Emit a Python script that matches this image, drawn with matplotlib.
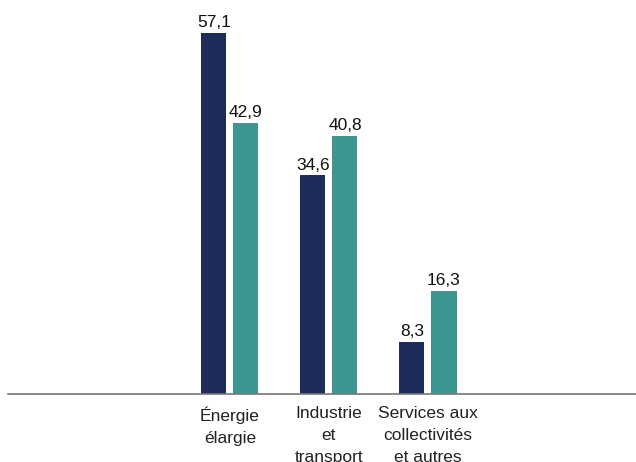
import matplotlib
matplotlib.use("Agg")
from matplotlib import pyplot as plt
import numpy as np

plt.rcParams["font.family"] = ["Liberation Sans", "DejaVu Sans"]

categories = ["Énergie\nélargie", "Industrie\net\ntransport", "Services aux\ncollectivités\net autres"]
serie_1 = [57.1, 34.6, 8.3]
serie_2 = [42.9, 40.8, 16.3]
couleurs = ["#1e2c5a", "#3e9690"]

fig = plt.figure(figsize=(6.36, 4.62), dpi=100)
ax = fig.add_axes([8 / 636, 68 / 462, 628 / 636, 394 / 462])

x = np.arange(len(categories))
largeur = 25 / 99
ecart = 7 / 99
b1 = ax.bar(x - (largeur + ecart) / 2, serie_1, largeur, color=couleurs[0])
b2 = ax.bar(x + (largeur + ecart) / 2, serie_2, largeur, color=couleurs[1])

for barres in (b1, b2):
    for b in barres:
        ax.annotate(f"{b.get_height():.1f}".replace(".", ","),
                    (b.get_x() + b.get_width() / 2, b.get_height()),
                    xytext=(0, 2), textcoords="offset points",
                    ha="center", va="bottom", fontsize=12.5, color="#111111")

ax.set_xlim(-2.24, 4.1)
ax.set_ylim(0, 394 / 6.32)
ax.set_xticks(x)
ax.set_xticklabels(categories, fontsize=12.5, color="#222222", linespacing=1.58)
ax.tick_params(axis="x", length=0, pad=9)
ax.set_yticks([])
for s in ["top", "right", "left"]:
    ax.spines[s].set_visible(False)
ax.spines["bottom"].set_color("#777777")
ax.spines["bottom"].set_linewidth(1.2)

fig.savefig("out.png", dpi=100)
